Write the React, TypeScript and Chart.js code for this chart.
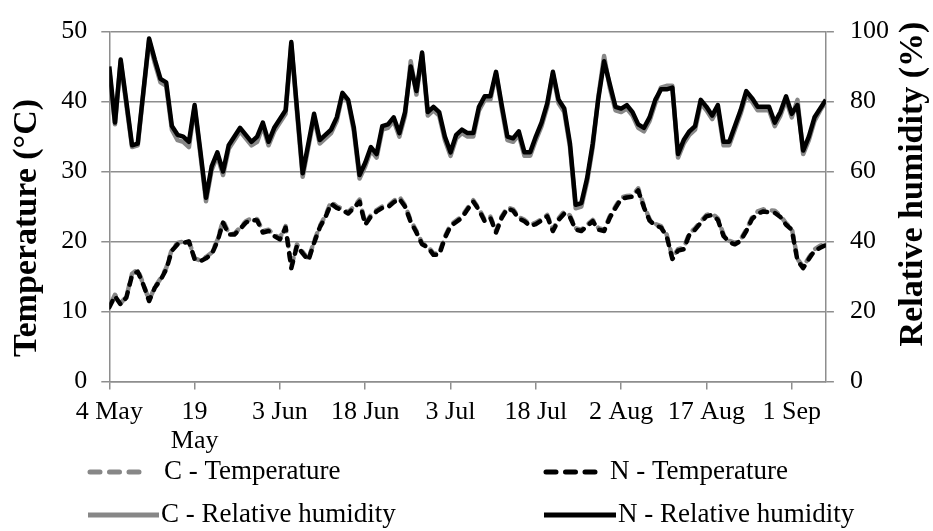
import { useEffect, useRef } from 'react';
import { Chart, registerables } from 'chart.js';

Chart.register(...registerables);

// Daily series, 4 May (day 0) to 7 Sep (day 126)
const N_TEMP: number[] = [
  10.6, 12.2, 11.0, 12.0, 15.2, 15.7, 13.8, 11.5, 13.4, 14.5,
  16.0, 18.7, 19.6, 19.8, 20.0, 17.5, 17.2, 17.6, 18.2, 20.0,
  22.7, 21.0, 21.0, 21.8, 22.7, 23.1, 23.0, 21.3, 21.5, 20.8,
  20.3, 22.0, 16.2, 19.4, 18.3, 17.3, 19.8, 22.0, 23.5, 25.4,
  24.8, 24.5, 24.0, 24.8, 25.7, 22.4, 23.6, 24.3, 24.8, 24.9,
  25.6, 26.1, 25.0, 22.8, 21.3, 19.6, 19.2, 18.1, 18.1, 20.5,
  22.2, 22.8, 23.4, 24.6, 25.7, 24.5, 22.9, 23.4, 21.3, 23.4,
  24.7, 24.4, 23.3, 22.9, 22.2, 22.5, 23.0, 23.6, 21.5, 23.1,
  24.0, 23.5, 21.7, 21.5, 22.2, 22.9, 21.7, 21.5, 23.4, 24.8,
  26.1, 26.3, 26.4, 27.3, 24.9, 23.0, 22.3, 22.0, 20.8, 17.5,
  18.7, 18.9, 21.0, 21.7, 22.7, 23.6, 23.8, 23.1, 20.8, 19.9,
  19.6, 20.1, 21.5, 23.2, 24.0, 24.3, 24.2, 24.1, 23.5, 22.4,
  21.7, 17.3, 16.2, 17.5, 18.7, 19.1, 19.5,
];

const C_TEMP: number[] = [
  10.7, 12.4, 11.2, 12.1, 15.4, 16.0, 13.9, 11.6, 13.5, 14.7,
  16.2, 18.9, 19.8, 20.0, 20.1, 17.6, 17.3, 17.8, 18.4, 20.2,
  23.0, 21.2, 21.1, 22.0, 22.9, 23.3, 23.2, 21.5, 21.7, 21.0,
  20.5, 22.2, 16.4, 19.6, 18.5, 17.5, 20.0, 22.2, 23.7, 25.7,
  25.0, 24.7, 24.2, 25.0, 26.0, 22.6, 23.8, 24.5, 25.0, 25.1,
  25.8, 26.4, 25.2, 23.0, 21.5, 19.8, 19.3, 18.3, 18.3, 20.7,
  22.4, 23.0, 23.6, 24.8, 25.9, 24.7, 23.1, 23.6, 21.5, 23.6,
  24.9, 24.6, 23.5, 23.1, 22.4, 22.7, 23.2, 23.8, 21.7, 23.3,
  24.3, 23.7, 21.9, 21.7, 22.4, 23.1, 21.9, 21.7, 23.6, 25.0,
  26.3, 26.5, 26.6, 27.6, 25.1, 23.2, 22.5, 22.2, 21.0, 17.7,
  18.9, 19.1, 21.2, 21.9, 22.9, 23.8, 24.0, 23.3, 21.0, 20.1,
  19.8, 20.3, 21.7, 23.4, 24.3, 24.6, 24.5, 24.4, 23.7, 22.6,
  21.9, 17.5, 16.4, 17.7, 18.9, 19.4, 19.8,
];

const N_RH: number[] = [
  90, 74, 92, 80, 67.5, 68, 83, 98, 92, 86.5,
  85.5, 73, 70.5, 70, 68.5, 79, 66, 52.5, 61.5, 65.5,
  60, 67.5, 70, 72.5, 70.5, 68.5, 70, 74, 68.5, 72.5,
  75, 77.5, 97, 78, 59.5, 68, 76.5, 69, 70.5, 72,
  75.5, 82.5, 80.5, 72.5, 59, 62.5, 67, 65, 73, 73.5,
  75.5, 71, 77, 90, 83, 94, 77, 78.5, 77, 70,
  65.5, 70.5, 72, 71, 71, 78.5, 81.5, 81.5, 88.5, 79,
  70, 69.5, 71.5, 65.5, 65.5, 70, 74, 79.5, 88.5, 80.5,
  78, 68, 50.5, 51, 58, 68, 81, 91.5, 85, 78.5,
  78, 79, 77, 73.5, 72.5, 75.5, 80.5, 83.5, 83.5, 84,
  65, 69, 71.5, 73, 80.5, 78.5, 76, 79, 68.5, 68.5,
  73, 77.5, 83, 81, 78.5, 78.5, 78.5, 74, 77, 81.5,
  76.5, 79, 66, 70, 75.5, 78, 80.5,
];

const C_RH: number[] = [
  89, 73.5, 91.5, 79, 67, 67.5, 82.5, 97.5, 91, 85.5,
  84.5, 72, 69, 68.5, 67, 78.5, 65, 51.5, 60.5, 64.5,
  59, 66.5, 69, 71.5, 69.5, 67.5, 68.5, 73, 67.5, 71.5,
  74, 76.5, 96.5, 77, 58.5, 67, 75.5, 68, 69.5, 71,
  74.5, 82, 80, 71.5, 58, 61.5, 66, 64, 72, 72.5,
  74.5, 70, 76, 91.5, 82, 93.5, 76, 77.5, 76, 69,
  64.5, 69.5, 71, 70, 70, 77.5, 80.5, 80.5, 88, 78,
  69, 68.5, 70.5, 64.5, 64.5, 69, 73, 78.5, 88, 79.5,
  77, 67, 49.5, 50, 57, 67, 81.5, 93, 84, 77.5,
  77, 78, 76, 72.5, 71.5, 74.5, 79.5, 84, 84.5, 84.5,
  64, 68, 70.5, 72, 79.5, 77.5, 75, 78, 67.5, 67.5,
  72, 76.5, 82, 80, 77.5, 77.5, 77.5, 73, 76, 80.5,
  75.5, 80.5, 65, 69, 74.5, 77.5, 80,
];

// Axis ticks every 15 days from 4 May
const TICK_DAYS: number[] = [0, 15, 30, 45, 60, 75, 90, 105, 120];
const TICK_LABELS: (string | string[])[] = [
  '4 May', ['19', 'May'], '3 Jun', '18 Jun', '3 Jul', '18 Jul', '2 Aug', '17 Aug', '1 Sep',
];

const SERIES_LABELS: string[] = [
  'C - Temperature', 'N - Temperature', 'C - Relative humidity', 'N - Relative humidity',
];
const LEFT_TITLE = 'Temperature (°C)';
const RIGHT_TITLE = 'Relative humidity (%)';

const SERIF = "'Times New Roman', 'Liberation Serif', serif";
const GRAY = '#878787';
const GRID = '#8e8e8e';
const TEMP_DASH = [7, 8];

const toPoints = (arr: number[]) => arr.map((v, i) => ({ x: i, y: v }));

const overlay = {
  id: 'overlay',
  afterDraw(chart: any) {
    const ctx: CanvasRenderingContext2D = chart.ctx;
    ctx.save();
    ctx.fillStyle = '#000';
    ctx.font = `bold 34px ${SERIF}`;
    ctx.textAlign = 'center';
    ctx.textBaseline = 'middle';

    ctx.save();
    ctx.translate(27, 228);
    ctx.rotate(-Math.PI / 2);
    ctx.fillText(LEFT_TITLE, 0, 0);
    ctx.restore();

    ctx.save();
    ctx.translate(913, 184);
    ctx.rotate(-Math.PI / 2);
    ctx.fillText(RIGHT_TITLE, 0, 0);
    ctx.restore();

    // legend, two columns by two rows
    const items = [
      { label: SERIES_LABELS[0], color: GRAY, dash: true, x0: 90, x1: 144, tx: 164, y: 472 },
      { label: SERIES_LABELS[1], color: '#000', dash: true, x0: 546, x1: 600, tx: 610, y: 472 },
      { label: SERIES_LABELS[2], color: GRAY, dash: false, x0: 88, x1: 159, tx: 161, y: 515 },
      { label: SERIES_LABELS[3], color: '#000', dash: false, x0: 544, x1: 616, tx: 618, y: 515 },
    ];
    ctx.font = `27px ${SERIF}`;
    ctx.textAlign = 'left';
    for (const it of items) {
      ctx.beginPath();
      ctx.strokeStyle = it.color;
      ctx.lineWidth = 5;
      if (it.dash) {
        ctx.setLineDash([10, 9.5]);
        ctx.lineCap = 'round';
      } else {
        ctx.setLineDash([]);
        ctx.lineCap = 'butt';
      }
      ctx.moveTo(it.x0, it.y);
      ctx.lineTo(it.x1, it.y);
      ctx.stroke();
      ctx.setLineDash([]);
      ctx.fillText(it.label, it.tx, it.y);
    }
    ctx.restore();
  },
};

export default function App() {
  const canvasRef = useRef<HTMLCanvasElement | null>(null);

  useEffect(() => {
    const canvas = canvasRef.current;
    if (!canvas) return;
    const chart = new Chart(canvas, {
      type: 'line',
      data: {
        datasets: [
          {
            label: SERIES_LABELS[1],
            data: toPoints(N_TEMP),
            yAxisID: 'y',
            borderColor: '#000',
            borderWidth: 4.5,
            borderDash: TEMP_DASH,
            borderCapStyle: 'round',
            borderJoinStyle: 'round',
            pointRadius: 0,
            tension: 0,
            order: 0,
          },
          {
            label: SERIES_LABELS[0],
            data: toPoints(C_TEMP),
            yAxisID: 'y',
            borderColor: GRAY,
            borderWidth: 4.5,
            borderDash: TEMP_DASH,
            borderDashOffset: 7.5,
            borderCapStyle: 'round',
            borderJoinStyle: 'round',
            pointRadius: 0,
            tension: 0,
            order: 1,
          },
          {
            label: SERIES_LABELS[3],
            data: toPoints(N_RH),
            yAxisID: 'y1',
            borderColor: '#000',
            borderWidth: 4.5,
            borderJoinStyle: 'round',
            pointRadius: 0,
            tension: 0,
            order: 0,
          },
          {
            label: SERIES_LABELS[2],
            data: toPoints(C_RH),
            yAxisID: 'y1',
            borderColor: GRAY,
            borderWidth: 4.5,
            borderJoinStyle: 'round',
            pointRadius: 0,
            tension: 0,
            order: 1,
          },
        ],
      } as any,
      options: {
        animation: false,
        responsive: false,
        parsing: true,
        layout: { autoPadding: false, padding: { left: 0, right: 0, top: 22.8, bottom: 0 } },
        plugins: { legend: { display: false }, tooltip: { enabled: false } },
        scales: {
          x: {
            type: 'linear',
            min: 0,
            max: N_RH.length - 1,
            afterBuildTicks: (scale: any) => {
              scale.ticks = TICK_DAYS.map((v) => ({ value: v }));
            },
            afterFit: (scale: any) => {
              scale.height = 149.5;
            },
            ticks: {
              autoSkip: false,
              maxRotation: 0,
              minRotation: 0,
              padding: 8,
              color: '#000',
              font: { family: SERIF, size: 26, lineHeight: 1.12 },
              callback: (_v: any, i: number) => TICK_LABELS[i],
            },
            grid: { drawOnChartArea: false, drawTicks: true, tickLength: 8, color: GRID, lineWidth: 1.5 },
            border: { color: GRID, width: 1.5 },
          },
          y: {
            type: 'linear',
            position: 'left',
            min: 0,
            max: 50,
            afterFit: (scale: any) => {
              scale.width = 109.3;
            },
            ticks: {
              stepSize: 10,
              padding: 14,
              color: '#000',
              font: { family: SERIF, size: 26 },
            },
            grid: { color: GRID, lineWidth: 1.5, tickLength: 8 },
            border: { color: GRID, width: 1.5 },
          },
          y1: {
            type: 'linear',
            position: 'right',
            min: 0,
            max: 100,
            afterFit: (scale: any) => {
              scale.width = 933 - 825.9;
            },
            ticks: {
              stepSize: 20,
              padding: 16,
              color: '#000',
              font: { family: SERIF, size: 26 },
            },
            grid: { drawOnChartArea: false, color: GRID, lineWidth: 1.5, tickLength: 8 },
            border: { color: GRID, width: 1.5 },
          },
        },
      } as any,
      plugins: [overlay],
    });
    return () => chart.destroy();
  }, []);

  return (
    <div style={{ position: 'fixed', left: 0, top: 0, width: 933, height: 531, background: '#fff' }}>
      <canvas ref={canvasRef} width={933} height={531} style={{ width: 933, height: 531, display: 'block' }} />
    </div>
  );
}
